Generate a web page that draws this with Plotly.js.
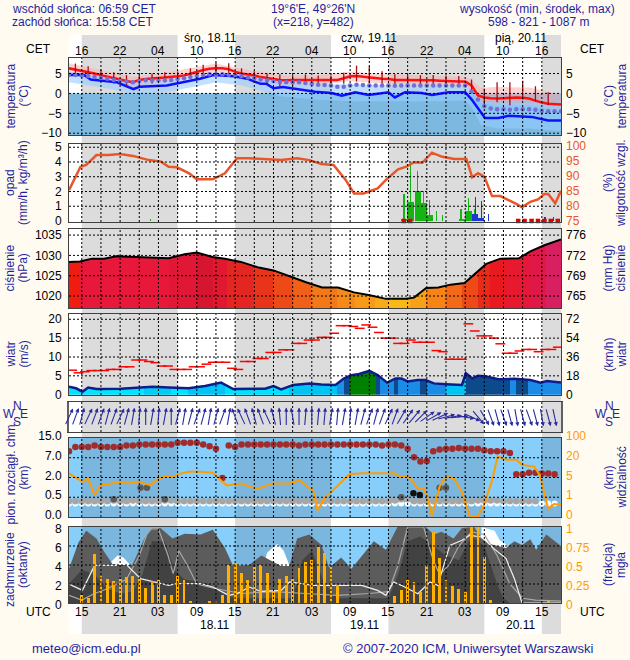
<!DOCTYPE html>
<html>
<head>
<meta charset="utf-8">
<script src="https://cdn.plot.ly/plotly-3.0.1.min.js"></script>
<style>
html,body{margin:0;padding:0;background:#fffbf0;}
#chart{width:630px;height:660px;}
</style>
</head>
<body>
<div id="chart"></div>
<script>
// ===== time axis: hours since 17.11 00 UTC =====
const hours = [13,14,15,16,17,18,19,20,21,22,23,24,25,26,27,28,29,30,31,32,33,34,35,36,37,38,39,40,41,42,43,44,45,46,47,48,49,50,51,52,53,54,55,56,57,58,59,60,61,62,63,64,65,66,67,68,69,70,71,72,73,74,75,76,77,78,79,80,81,82,83,84,85,86,87,88,89,90];
const nightStart = [15,39,63,87];
const nightEnd   = [30,54,78,90];
const gridHours = [15,18,21,24,27,30,33,36,39,42,45,48,51,54,57,60,63,66,69,72,75,78,81,84,87];
const labelHours = [15,21,27,33,39,45,51,57,63,69,75,81,87];
const cetLabels = ['16','22','04','10','16','22','04','10','16','22','04','10','16'];
const utcLabels = ['15','21','03','09','15','21','03','09','15','21','03','09','15'];
const dayLabels = ['śro, 18.11','czw, 19.11','pią, 20.11'];
const dayLabelX = [35.2,60.0,83.7];
const dateLabels = ['18.11','19.11','20.11'];
const dateLabelX = [35.8,59.3,83.7];

// ===== temperature =====
const tempAir = [6.3,6.0,5.7,5.3,5.0,4.6,4.2,3.9,3.5,3.1, 2.8,3.4,3.6,3.8,3.9,4.0,4.1,4.3,4.5,4.9, 5.4,5.9,6.2,6.3,6.3,6.1,5.4,5.0,4.8,4.5, 4.1,3.8,3.6,3.4,3.3,3.4,3.4,3.4,3.3,3.3, 3.3,3.3,3.4,3.8,4.3,4.4,4.2,4.0,3.8,3.7, 3.6,3.4,3.4,3.4,3.4,3.4,3.3,3.3,3.2,3.1, 3.0,3.0,3.0,2.0,-0.5,-1.0,-1.2,-1.3,-1.2,-1.1, -1.0,-1.1,-1.3,-1.8,-2.3,-2.6,-2.7,-2.8];
const tempWet = [4.7,4.6,4.5,4.4,4.1,3.9,3.7,3.4,3.2,3.0, 2.8,3.1,3.3,3.3,3.3,3.3,3.4,3.6,3.8,4.1, 4.4,4.6,4.8,4.8,4.8,4.7,4.6,4.3,4.0,3.8, 3.5,3.3,3.1,2.9,2.8,2.8,2.8,2.6,2.4,2.2, 2.1,2.0,1.7,1.7,2.0,2.2,2.1,2.0,2.0,2.0, 2.0,1.9,2.0,2.0,2.0,2.0,2.0,2.0,2.0,2.0, 2.0,2.0,2.0,0.5,-1.5,-3.2,-3.8,-4.0,-4.0,-4.1, -4.0,-4.0,-4.0,-4.1,-4.4,-4.5,-4.5,-4.5];
const dewX = [13,15.3,16.4,20.5,23.1,24.1,28.3,30.9,33.5,35.6,38.8,40.9,43,43.9,45,46.5,49.2,51.5,54.1,55.7,57.8,59.9,63,64,65.6,68.2,69.8,72.4,75,76,78.1,80.2,81.8,85.4,88,90];
const dewY = [4.6,4.7,3.5,2.8,1.1,1.7,2.0,2.8,3.7,4.6,4.3,3.7,2.4,2.4,1.3,1.6,0.9,0.4,0.1,-0.6,0.3,-0.4,0.3,-1.0,0.3,0.1,-0.4,0.3,0.3,-1.5,-6.2,-6.2,-5.6,-5.9,-6.8,-6.8];
const bandX  = [13,20,23,28,33,36,40,46,52,57,62,70,75,76,77.5,80,85,90];
const pinkHi = [7.6,5.2,4.1,5.2,6.6,7.5,6.2,4.6,4.5,5.5,4.9,4.5,4.2,3.4,1.4,1.6,1.5,-0.3];
const pinkLo = [5.0,2.6,1.5,2.8,4.2,5.1,3.8,2.2,2.1,3.1,2.5,2.1,1.8,0.6,-2.4,-3.0,-3.0,-4.2];
const blueHi = [5.5,3.8,2.6,3.2,4.5,5.0,4.8,3.0,2.2,2.3,2.1,2.0,2.0,0.6,-2.0,-2.3,-2.2,-2.6];
const blueLo = [2.8,1.0,-0.3,0.3,1.8,2.8,2.0,-0.7,-1.6,-2.0,-2.0,-2.0,-1.8,-3.5,-8.0,-8.8,-8.8,-9.5];
const whiskX  = [14,16,18,20,22,24,26,28,30,32,34,36,38,40,42,44,46,48,50,52,54,56,58,60,62,64,66,68,70,72,74,76,78,80,82,84,86,88];
const whiskHi = [7.5,6.8,6.0,5.3,4.6,4.8,5.0,5.3,5.5,6.3,7.2,7.8,7.6,6.3,5.6,5.0,4.8,4.6,4.8,4.5,4.5,5.2,7.0,6.8,5.6,4.8,4.6,4.6,4.6,4.5,4.4,3.5,1.2,2.8,2.8,3.2,1.8,0.3];
const whiskLo = [4.5,3.8,3.3,2.5,1.6,1.8,2.5,2.8,3.0,3.6,4.6,5.0,4.8,3.8,3.3,2.5,1.8,2.0,2.2,2.0,2.2,2.4,3.0,2.6,2.4,2.2,2.2,2.2,2.0,1.9,1.8,0.5,-3.0,-2.2,-3.0,-1.5,-2.0,-3.0];
const tempTicks = [5,0,-5,-10];

// ===== precipitation / humidity =====
const rainX = [65.45,66.45,67.6,68.55,69.5,74.5,75.5];
const rainV = [0.15,1.27,2.0,1.2,0.38,0.1,0.65];
const rainPeakX = [25.7,65.43,66.47,67.5,68.45,69.4,70.5,71.4,74.35,75.5,76.4];
const rainPeakV = [0.12,1.85,3.8,3.4,2.0,1.45,0.65,0.4,0.8,1.55,0.8];
const snowX = [76.5,77.5];
const snowV = [0.45,0.2];
const snowPeakX = [76.6,77.6,78.6,86.3,87.5,88.8];
const snowPeakV = [1.65,1.33,0.45,0.15,0.25,0.3];
const freezeX = [65.4,66.4,83.3,84.3,85.4,86.4,87.4,88.4,89.5];
const humX = [13,14.8,15.7,17.3,19.2,21,23,25.5,27.4,28.6,29.9,31.8,33,35.5,37.4,39.3,41.2,43.7,46.2,48.7,50.6,52.5,54.4,56.3,57.6,59.1,61.3,62.6,64.5,65.8,67,68.3,69.8,71.4,73.3,75.2,76.1,77,78,79.2,80.5,83,83.9,85.2,86.4,87.4,88,89.1,90];
const humV = [85.3,93.1,93.7,97,97,97.3,96.7,95.3,94.8,93.1,92.9,90.9,88.9,88.9,90.9,95.9,95.9,95.7,95.3,95.9,95.3,94,93.7,88.7,84.2,84.2,85.9,88.7,92.2,93.1,94.6,94.4,97.8,96.4,95.7,95.7,89.6,90.9,89.8,83.3,83.3,80.7,79.6,81.4,82.2,84,84,80.9,85.1];
const precipTicks = [0,1,2,3,4,5];
const humTicks = [75,80,85,90,95,100];

// ===== pressure =====
const presX = [13,14.7,16.6,18.5,20.4,22.9,25.4,28.6,31.1,33,35.5,37.4,39.9,42.5,45,47.5,50.1,52.6,55.1,57.6,60.1,62.6,65.8,67,68.9,70.8,72.7,74.9,76.5,78.3,80.5,83.4,85.2,87.4,90];
const presV = [1028.4,1028.5,1029.2,1029.2,1029.8,1029.6,1029.5,1029.3,1030.3,1030.7,1029.6,1029.2,1028.4,1027.1,1026.3,1024.8,1023.4,1022.1,1022.1,1020.9,1020.2,1019.3,1019.3,1019.6,1022,1022.1,1022.8,1023.2,1025.4,1027.9,1029.2,1029.3,1031,1032.5,1033.9];
const presColEdges = [13,14.7,28.6,33,35.5,37.7,41.8,45,48,50.8,55,57.8,60.9,63,66.3,68.8,72,74.5,77,78.9,81.4,84,85.2,87.7,90];
const presColors = ['#f01c10','#e8183a','#e01836','#d61630','#e01830','#e42622','#e8341a','#ee4a18','#f06018','#f27818','#f68a18','#f89a18','#f8aa18','#f8b818','#f8a018','#f88418','#f26a18','#ee4a18','#e82a18','#e81a20','#e8182e','#e6183a','#e01848','#d82060'];
const presTicks = [1020,1025,1030,1035];
const mmHgLabels = ['765','769','772','776'];

// ===== wind =====
const windX = [13,14.1,15.1,16,17.3,21.1,24.2,26.1,28.6,31.7,34.3,36.8,38.7,41.2,43.7,45,46.2,48.1,50.6,52.5,54.7,56,57.2,58.4,60,61.3,62.8,64.1,65,66,67.6,68.8,70.1,72,74.5,75.1,76.1,77,78.3,80.2,82.7,85.2,86.8,87.8,90];
const windV = [2.1,1.7,0.8,1.9,1.5,1.6,1.9,2.1,1.9,1.7,2.3,3.2,1.5,1.6,1.6,2.3,1.4,2.6,3.0,2.7,2.6,4.3,5.2,5.5,6.3,5.2,3.2,4.3,4.3,3.5,3.9,3.9,3.0,2.8,2.6,5.7,4.3,5.0,4.8,4.1,4.2,3.9,3.2,3.6,3.2];
const gust = [6.5,5.8,6.1,6.4,6.4,6.4,6.7,6.7,7.4,7.4, 9.2,9.2,8.8,8.5,7.6,7.6,6.7,6.7,6.7,7.4, 7.4,8.1,8.6,8.6,8.6,7.0,6.7,8.8,8.8,9.6, 9.6,11.2,11.2,11.9,11.9,13.6,13.6,14.5,14.5,15.2, 15.2,16.3,18.3,18.3,18.1,17.6,18.5,17.9,16.5,15.0, 15.0,13.6,13.6,14.5,13.9,13.9,13.9,11.7,11.4,9.4, 9.4,9.4,18.8,16.9,15.6,15.6,15.0,13.5,11.0,11.0, 11.6,12.0,12.0,11.4,12.0,12.0,12.6];
const windColEdges = [13,24.8,28.9,31.7,37.4,47.5,55,56,57,61,61.6,63.8,64.5,67.9,69,72,75.1,82,83,84.9,90];
const windColors = ['#00e4ff','#00ccf4','#00e4ff','#00c4f8','#00e0ff','#00c4f4','#1a90e8','#0c4a8c','#008000','#0c4a8c','#1a8ce8','#0c4a8c','#1a8ce8','#0c4a8c','#1a8ce8','#00c4f4','#0c4a8c','#1a8ce8','#0c4a8c','#1a8ce8'];
const windTicks = [0,5,10,15,20];
const kmhTicks = [0,18,36,54,72];

// ===== wind direction (direction the arrow points, deg clockwise from N) =====
const dirDeg = [25,20,15,25,20,20,15,20,25,15, 10,5,0,10,5,10,0, 15,10,15,20,15,10,15,20,10, -20,-25,-20,-15,-20,-25,-15, -5,0,-10,0,5,0,5, 5,10,5,10,5,10, 15,20,15,20,25,20, 30,35,40,45, 55,60,65, 75,80,85, 100,115, 140,150, 160,165,160,165,170,165,160,165,170,165,168];

// ===== cloud base (km) & visibility (km) =====
const cbBounds = [0,0.5,2,7,15];
const cbLabels = ['0.0','0.5','2.0','7.0','15.0'];
const visBounds = [0,1,5,20,100];
const visLabels = ['0','1','5','20','100'];
const highBase = [9.6,11.4,11.4,11.4,12.0,11.4,11.4,11.4,11.4,12.0, 12.0,12.4,12.4,12.4,12.4,12.4,12.4,13.1,13.1,13.1, 13.1,12.4,11.7,10.6,1.97,12.0,11.4,12.4,12.4,12.4, 12.4,12.4,12.4,12.4,12.4,12.4,12.0,12.4,12.4,12.4, 12.4,12.4,12.4,12.4,12.4,12.4,12.4,12.4,12.4,12.0, 12.4,12.4,12.0,10.6,7.2,6.05,6.2,9.6,10.3,10.6, 10.6,11.0,10.6,10.6,10.6,10.0,9.6,9.6,9.6,8.9, 2.8,2.8,3.2,3.2,3.0,3.0,2.85];
const lowBase = [0.40,0.40,0.40,0.40,0.40,0.40,0.40,0.42,0.40,0.40, 0.42,0.40,0.40,0.40,0.40,0.42,0.42,0.40,0.40,0.40, 0.40,0.40,0.40,0.40,0.40,0.40,0.40,0.40,0.40,0.40, 0.40,0.40,0.40,0.40,0.40,0.40,0.40,0.40,0.40,0.40, 0.40,0.40,0.40,0.40,0.40,0.40,0.40,0.40,0.40,0.40, 0.40,0.42,0.45,0.45,0.40,0.40,0.40,0.40,0.40,0.40, 0.40,0.40,0.40,0.40,0.42,0.42,0.42,0.42,0.40,0.40, 0.40,0.40,0.40,0.40];
const fogLevel = [0.34,0.34,0.34,0.34,0.34,0.34,0.34,0.34,0.34,0.34, 0.34,0.34,0.34,0.34,0.34,0.34,0.34,0.34,0.34,0.34, 0.34,0.34,0.34,0.34,0.34,0.34,0.34,0.34,0.34,0.34, 0.34,0.34,0.34,0.34,0.34,0.34,0.34,0.34,0.34,0.34, 0.34,0.34,0.34,0.34,0.34,0.34,0.34,0.34,0.34,0.34, 0.34,0.34,0.34,0.34,0.34,0.34,0.34,0.34,0.34,0.34, 0.34,0.34,0.34,0.34,0.34,0.34,0.34,0.34,0.34,0.34, 0.34,0.34,0.34,0.34,0.34,0.34,0.34];
const darkBaseX = [20,24.2,25.2,28,65,71,72];
const darkBase  = [0.45,1.22,1.22,0.45,0.5,1.22,1.22];
const blackBaseX = [66.9,67.9];
const blackBase  = [0.8,0.68];
const visX = [13,15.1,16,17,17.9,21.1,22.3,23.9,25.8,26.4,28,29.2,30.2,31.7,33.6,35.5,36.8,37.7,39.9,42.4,44.9,47.5,49.1,50.3,51.2,51.9,53.1,54.4,56.9,58.8,63.8,65,66.3,67.6,68.5,69.1,69.8,71,72,73.2,74.5,75.7,77,77.9,79.2,80.1,81.4,83,83.9,85.8,86.7,88,88.9,90];
const visV = [8.2,4.1,4.8,1.4,3.4,4.1,3.8,4.2,3.4,4.2,6.1,5.5,7.6,9.4,9.4,8.6,4.4,3.4,3.8,2.7,3.8,3.8,4.4,3.1,2.5,0.34,1.0,2.5,7.4,8.2,8.2,5.5,5.0,2.7,2.7,1.0,0.05,3.2,5.5,4.9,2.0,0.05,0.05,0.57,4.4,25.6,18.5,18.5,14.6,13.3,6.8,0.4,0.66,0.62];

// ===== cloud cover (oktas) & fog (fraction) =====
const ccX = [13,14.5,15.7,17.3,18.5,19.8,21.1,22.9,24.8,26.1,27.3,29.2,31.1,33.6,35.5,37.4,38.7,41.2,43.1,46.2,47.5,48.7,50.6,52.5,53.7,55.6,57.2,58.8,60.7,62.6,64.4,68.8,70.1,71.3,73.2,74.5,76.4,77.6,78.9,80.1,81.4,82.7,83.9,85.2,86.1,87.7,89,90];
const ccTotal = [3.6,6.4,7.6,6.8,5.4,4.1,4.0,4.0,6.8,7.9,7.9,6.8,7.3,7.2,7.7,5.8,3.9,4.0,5.0,3.9,3.9,6.8,7.2,6.1,3.7,4.8,3.6,4.9,6.5,5.6,8.0,8.0,7.2,7.5,6.8,7.9,8.0,6.8,6.2,6.0,5.8,6.5,6.1,6.7,5.6,7.2,6.5,6.0];
const ccWhiteX = [13,19.0,20.6,21.5,22.6,23.3,42.0,44.0,45.6,46.6,47.6,76.6,77.6,78.6,79.6,80.4,81.2,82.0,90];
const ccWhite  = [0,4.0,5.0,4.8,4.0,0,0,5.3,6.2,5.5,3.8,0,8.0,7.8,7.6,6.6,6.3,5.6,0];
const ccLowX = [13,15,17,19,21,23,24.5,26,28,29.5,31,35,37,39,48,49.5,51,53,55,63,64.5,66,68,70,72,74,76,78,80,81,82,90];
const ccLow  = [2.0,3.5,3.0,1.5,1.0,1.2,3.0,6.5,6.5,3.5,2.5,2.0,1.0,0.5,0.5,4.5,5.5,2.0,0.5,0.5,3.0,6.5,7.0,6.0,5.0,4.5,7.0,6.0,2.0,0.5,0,0];
const lineWX = [13,15.1,17,20.4,20.8,22.9,24.2,28.6,29.8,33.6,35.5,38,39.3,41.2,43,46.2,47.5,51.2,58.8,61.3,62.6,63.8,65,67.6,69.5,70.7,72.6,74.5,75.7,77.6,79.5,81.4,82.7,83.9,90];
const lineW  = [2.0,1.33,3.96,3.96,4.84,3.44,2.56,1.86,2.04,2.04,1.68,0.81,0.98,1.68,1.23,1.33,2.21,1.86,1.86,1.33,0.81,2.21,1.86,0.98,2.21,1.86,6.07,6.6,7.12,6.95,5.72,4.67,2.56,0,0];
const lineGX = [13,15,17,19,22,24,25.5,27,28.5,29.3,30.2,31.5,33,36,40,45,50,55,60,63,64.5,66,68.5,70,71,72.5,74,76,78,80,82,84,86,90];
const lineG  = [0.8,0.3,1.0,1.5,2.5,5.0,7.8,7.8,5.0,3.1,5.5,4.0,2.0,1.5,1.0,1.2,1.0,0.8,1.0,1.2,4.0,8.0,8.0,4.5,3.0,4.0,6.0,7.5,7.2,5.0,2.0,0.5,0.3,0.2];
const fog = [0,0,0.1,0.06,0.64,0.36,0.31,0.29,0.31,0.34, 0.36,0.32,0.2,0.29,0.3,0.11,0.11,0.36,0.3,0.03, 0,0,0.02,0.02,0.1,0.5,0.53,0.39,0.3,0.47, 0.5,0.4,0.15,0.32,0.36,0.32,0.46,0.54,0.57,0.74, 0.66,0.48,0.24,0,0,0,0,0,0,0, 0,0.09,0.17,0.3,0.28,0.15,0.5,0.94,0.59,0.3, 0.22,0.18,0.14,1.0,1.0,0.6,0.04,0,0,0, 0,0,0,0,0,0.02,0];
const cloudTicks = [0,2,4,6,8];
const fogTicks = [0,0.25,0.5,0.75,1];
const fogLabels = ['0','0.25','0.5','0.75','1'];

// ================= drawing =================
const W = 630, H = 660;
const fam = 'Liberation Sans, Arial, Helvetica, sans-serif';
const NAVY = '#1f1f9f';
const FRAME = '#404040';
const py = p => 1 - p / H;
const P = {temp:[58,135], precip:[144,222], pres:[229,308], wind:[314,395], wdir:[402,432], cbase:[438,517], cloud:[527,603]};
const dom = k => [py(P[k][1]), py(P[k][0])];
const h77 = hours.slice(0, 77);

function pw(b, v) { // piecewise position on a banded axis
  for (let i = 0; i < b.length - 1; i++) if (v <= b[i+1]) return i + (v - b[i]) / (b[i+1] - b[i]);
  return b.length - 1;
}
function scaleFrom(edges, cols) {
  const s = [], a = edges[0], z = edges[edges.length-1];
  cols.forEach((c, i) => { s.push([(edges[i]-a)/(z-a), c]); s.push([(edges[i+1]-a)/(z-a), c]); });
  s[0][0] = 0; s[s.length-1][0] = 1;
  return s;
}

const tr = [];
const base = {mode:'lines', hoverinfo:'skip', showlegend:false, xaxis:'x'};
function add(o) { tr.push(Object.assign({}, base, o)); }

// temperature
add({x:bandX, y:pinkLo, yaxis:'y', line:{width:0}});
add({x:bandX, y:pinkHi, yaxis:'y', line:{width:0}, fill:'tonexty', fillcolor:'rgba(250,175,175,0.55)'});
add({x:bandX, y:blueLo, yaxis:'y', line:{width:0}});
add({x:bandX, y:blueHi, yaxis:'y', line:{width:0}, fill:'tonexty', fillcolor:'rgba(150,205,255,0.6)'});
add({x:hours, y:tempAir, yaxis:'y', line:{color:'#ff1010', width:2.5}});
const wx = [], wy = [];
whiskX.forEach((h, i) => { wx.push(h, h, null); wy.push(whiskLo[i], whiskHi[i], null); });
add({x:wx, y:wy, yaxis:'y', line:{color:'#a81010', width:1.3}});
add({x:dewX, y:dewY, yaxis:'y', line:{color:'#1010ff', width:2.5}});
add({x:hours, y:tempWet, yaxis:'y', mode:'markers', marker:{size:4.5, color:'#7070d8'}});
add({x:[13], y:[0], yaxis:'y2', mode:'markers', marker:{opacity:0}});

// precipitation
add({type:'bar', x:rainX, y:rainV, yaxis:'y3', width:1, marker:{color:'#14b414', line:{width:0}}});
add({type:'bar', x:rainPeakX, y:rainPeakV, yaxis:'y3', width:0.17, marker:{color:'#14b414', line:{width:0}}});
add({type:'bar', x:snowX, y:snowV, yaxis:'y3', width:1, marker:{color:'#1838d0', line:{width:0}}});
add({type:'bar', x:snowPeakX, y:snowPeakV, yaxis:'y3', width:0.17, marker:{color:'#1838d0', line:{width:0}}});
add({x:freezeX, y:freezeX.map(() => 0), yaxis:'y3', mode:'markers', marker:{symbol:'square', size:4.5, color:'#e00000'}, cliponaxis:false});
add({x:humX, y:humV, yaxis:'y4', line:{color:'#e8562a', width:2.5}});

// pressure
add({x:presX, y:presV, yaxis:'y5', line:{color:'#000', width:2}, fill:'tozeroy',
     fillgradient:{type:'horizontal', colorscale:scaleFrom(presColEdges, presColors), start:13, stop:90}});
add({x:[13], y:[1030], yaxis:'y6', mode:'markers', marker:{opacity:0}});

// wind
add({x:windX, y:windV, yaxis:'y7', line:{color:'#101c8c', width:2.5}, fill:'tozeroy',
     fillgradient:{type:'horizontal', colorscale:scaleFrom(windColEdges, windColors), start:13, stop:90}});
add({x:h77.map(h => h + 0.5), y:gust, yaxis:'y7', mode:'markers', marker:{symbol:'line-ew', size:7, line:{color:'#ff0000', width:1.5}}});
add({x:[13], y:[0], yaxis:'y8', mode:'markers', marker:{opacity:0}});
add({x:[13], y:[0.5], yaxis:'y9', mode:'markers', marker:{opacity:0}});

// cloud base / visibility
add({x:visX, y:visV.map(v => pw(visBounds, v)), yaxis:'y11', line:{color:'#ff9c00', width:2}});
add({x:h77, y:fogLevel.map(v => pw(cbBounds, v)), yaxis:'y10', mode:'markers', marker:{size:6, color:'#ffffff'}});
add({x:hours.slice(0, 74), y:lowBase.map(v => pw(cbBounds, v)), yaxis:'y10', mode:'markers', marker:{size:6.5, color:'#a6a6a6'}});
add({x:darkBaseX, y:darkBase.map(v => pw(cbBounds, v)), yaxis:'y10', mode:'markers', marker:{size:6.5, color:'#5a5a5a'}});
add({x:blackBaseX, y:blackBase.map(v => pw(cbBounds, v)), yaxis:'y10', mode:'markers', marker:{size:6.5, color:'#101010'}});
add({x:h77, y:highBase.map(v => pw(cbBounds, v)), yaxis:'y10', mode:'markers', marker:{size:6.5, color:'#a02c2c'}});

// cloud cover / fog
add({x:ccWhiteX, y:ccWhite, yaxis:'y12', line:{width:0}, fill:'tozeroy', fillcolor:'#ffffff'});
add({x:ccX, y:ccTotal, yaxis:'y12', line:{width:0}, fill:'tozeroy', fillcolor:'#5c5c5c'});
add({x:ccLowX, y:ccLow, yaxis:'y12', line:{width:0}, fill:'tozeroy', fillcolor:'#424242'});
add({type:'bar', x:h77, y:fog, yaxis:'y13', width:0.45, marker:{color:'#ffb000', line:{width:0}}});
add({x:lineGX, y:lineG, yaxis:'y12', line:{color:'#a8a8a8', width:1.2}});
add({x:lineWX, y:lineW, yaxis:'y12', line:{color:'#f0f0f0', width:1.2}});

// ---- axes ----
function yL(k, o) {
  return Object.assign({domain:dom(k), anchor:'x', showgrid:false, zeroline:false, showline:true, mirror:true,
    linecolor:FRAME, linewidth:1, ticks:'', ticklabelstandoff:4, fixedrange:true,
    tickfont:{family:fam, size:12, color:'#000'}}, o);
}
function yR(over, k, o) {
  return Object.assign({domain:dom(k), anchor:'x', overlaying:over, side:'right', showgrid:false, zeroline:false,
    showline:false, ticks:'', ticklabelstandoff:4, fixedrange:true,
    tickfont:{family:fam, size:12, color:'#000'}}, o);
}
const tR = [-10.45, 8.9], pR = [-0.07, 5.22], hR = [74.67, 100.67], prR = [1017.05, 1036.5], wR = [-0.08, 21.4];

// ---- shapes ----
const shapes = [];
shapes.push({type:'rect', xref:'x', yref:'paper', x0:13, x1:90, y0:py(634), y1:py(35), fillcolor:'#ffffff', line:{width:0}, layer:'below'});
nightStart.forEach((a, i) => shapes.push({type:'rect', xref:'x', yref:'paper', x0:a, x1:nightEnd[i], y0:py(634), y1:py(35), fillcolor:'#dcdcdc', line:{width:0}, layer:'below'}));
['cbase', 'cloud'].forEach(k => {
  shapes.push({type:'rect', xref:'x', yref:'paper', x0:13, x1:90, y0:py(P[k][1]), y1:py(P[k][0]), fillcolor:'#87cefa', line:{width:0}, layer:'below'});
  nightStart.forEach((a, i) => shapes.push({type:'rect', xref:'x', yref:'paper', x0:a, x1:nightEnd[i], y0:py(P[k][1]), y1:py(P[k][0]), fillcolor:'#7ab6de', line:{width:0}, layer:'below'}));
});
shapes.push({type:'rect', xref:'x', yref:'y', x0:13, x1:90, y0:tR[0], y1:0, fillcolor:'#7cb8e0', line:{width:0}, layer:'below'});
const gridLine = {color:'#000', width:1, dash:'2px,2px'};
Object.keys(P).forEach(k => gridHours.forEach(h => shapes.push({type:'line', xref:'x', yref:'paper', x0:h, x1:h, y0:py(P[k][1]), y1:py(P[k][0]), line:gridLine, layer:'above'})));
const hGrid = [['y',[5,0,-5,-10]],['y3',[1,2,3,4,5]],['y5',[1020,1025,1030,1035]],['y7',[5,10,15,20]],['y10',[1,2,3]],['y12',[2,4,6]]];
hGrid.forEach(([ax, vals]) => vals.forEach(v => shapes.push({type:'line', xref:'x', yref:ax, x0:13, x1:90, y0:v, y1:v, line:gridLine, layer:'above'})));

// ---- annotations ----
const ann = [];
function txt(x, y, text, o) {
  ann.push(Object.assign({xref:'paper', yref:'paper', x:x/W, y:py(y), text:text, showarrow:false,
    xanchor:'center', yanchor:'middle', font:{family:fam, size:12, color:NAVY}}, o || {}));
}
// header
txt(10, 9, 'wschód słońca: 06:59 CET', {xanchor:'left'});
txt(10, 22, 'zachód słońca: 15:58 CET', {xanchor:'left'});
txt(313, 9, "19°6'E, 49°26'N");
txt(313, 22, '(x=218, y=482)');
txt(617, 9, 'wysokość (min, środek, max)', {xanchor:'right'});
txt(538, 22, '598 - 821 - 1087 m');
// footer
txt(30, 648, 'meteo@icm.edu.pl', {xanchor:'left', font:{family:fam, size:13, color:NAVY}});
txt(596, 648, '© 2007-2020 ICM, Uniwersytet Warszawski', {xanchor:'right', font:{family:fam, size:13, color:NAVY}});
// time labels
const blk = {family:fam, size:12, color:'#000'};
labelHours.forEach((h, i) => {
  ann.push({xref:'x', yref:'paper', x:h, y:py(51), text:cetLabels[i], showarrow:false, font:blk, xanchor:'center', yanchor:'middle'});
  ann.push({xref:'x', yref:'paper', x:h, y:py(612), text:utcLabels[i], showarrow:false, font:blk, xanchor:'center', yanchor:'middle'});
});
dayLabels.forEach((t, i) => ann.push({xref:'x', yref:'paper', x:dayLabelX[i], y:py(38), text:t, showarrow:false, font:blk, xanchor:'center', yanchor:'middle'}));
dateLabels.forEach((t, i) => ann.push({xref:'x', yref:'paper', x:dateLabelX[i], y:py(625), text:t, showarrow:false, font:blk, xanchor:'center', yanchor:'middle'}));
txt(38, 49, 'CET', {font:blk}); txt(592, 49, 'CET', {font:blk});
txt(38, 612, 'UTC', {font:blk}); txt(592, 612, 'UTC', {font:blk});
// axis titles [panel, left outer, left inner, right inner, right outer, left outer shift, right outer shift]
const rot = {textangle:-90};
const titles = [
  ['temp', 'temperatura', '(°C)', '(°C)', 'temperatura', 0, 0],
  ['precip', 'opad', '(mm/h, kg/m³/h)', '(%)', 'wilgotność wzgl.', 0, 0],
  ['pres', 'ciśnienie', '(hPa)', '(mm Hg)', 'ciśnienie', 0, 0],
  ['wind', 'wiatr', '(m/s)', '(km/h)', 'wiatr', 0, 0],
  ['cbase', 'pion. rozciągł. chm.', '(km)', '(km)', 'widzialność', -4, 0],
  ['cloud', 'zachmurzenie', '(oktanty)', '(frakcja)', 'mgła', 5, 0]
];
titles.forEach(([k, a, b, c, d, dl, dr]) => {
  const yc = (P[k][0] + P[k][1]) / 2;
  txt(10, yc + dl, a, rot); txt(23, yc, b, rot); txt(608, yc, c, rot); txt(621, yc + dr, d, rot);
});
// compass
[17, 609].forEach(cx => {
  txt(cx, 406, 'N'); txt(cx - 8, 414, 'W'); txt(cx + 7, 414, 'E'); txt(cx, 422, 'S');
});
// wind arrows
const L = 19;
h77.forEach((h, i) => {
  const t = dirDeg[i] * Math.PI / 180, sx = Math.sin(t), cy = Math.cos(t);
  ann.push({xref:'x', yref:'y9', x:h, y:0.5, text:'', showarrow:true, axref:'pixel', ayref:'pixel',
    ax:-sx * L, ay:cy * L, xshift:sx * L / 2, yshift:cy * L / 2,
    arrowhead:2, arrowsize:0.75, arrowwidth:1.1, arrowcolor:'#2a2aa0', standoff:0, startstandoff:0});
});

const layout = {
  width:W, height:H, margin:{l:0, r:0, t:0, b:0},
  paper_bgcolor:'#fffbf0', plot_bgcolor:'rgba(0,0,0,0)',
  showlegend:false, barmode:'overlay', bargap:0,
  font:{family:fam, size:12, color:'#000'},
  xaxis:{domain:[69/W, 561/W], range:[13, 90], anchor:'y12', showgrid:false, zeroline:false, showticklabels:false,
         ticks:'', showline:true, mirror:'all', linecolor:FRAME, linewidth:1, fixedrange:true},
  yaxis:  yL('temp', {range:tR, tickvals:tempTicks}),
  yaxis2: yR('y', 'temp', {range:tR, tickvals:tempTicks}),
  yaxis3: yL('precip', {range:pR, tickvals:precipTicks}),
  yaxis4: yR('y3', 'precip', {range:hR, tickvals:humTicks, tickfont:{family:fam, size:12, color:'#e8562a'}}),
  yaxis5: yL('pres', {range:prR, tickvals:presTicks}),
  yaxis6: yR('y5', 'pres', {range:prR, tickvals:presTicks, ticktext:mmHgLabels}),
  yaxis7: yL('wind', {range:wR, tickvals:windTicks}),
  yaxis8: yR('y7', 'wind', {range:[wR[0]*3.6, wR[1]*3.6], tickvals:kmhTicks}),
  yaxis9: yL('wdir', {range:[0, 1], showticklabels:false, linecolor:'#606060', linewidth:2}),
  yaxis10: yL('cbase', {range:[0, 4], tickvals:[0,1,2,3,4], ticktext:cbLabels, ticklabelshift:-2}),
  yaxis11: yR('y10', 'cbase', {range:[0, 4], tickvals:[0,1,2,3,4], ticktext:visLabels, ticklabelshift:-2, tickfont:{family:fam, size:12, color:'#ff9c00'}}),
  yaxis12: yL('cloud', {range:[0, 8], tickvals:cloudTicks, ticklabelshift:2}),
  yaxis13: yR('y12', 'cloud', {range:[0, 1], tickvals:fogTicks, ticktext:fogLabels, ticklabelshift:2, tickfont:{family:fam, size:12, color:'#ff9c00'}}),
  shapes:shapes, annotations:ann
};

Plotly.newPlot('chart', tr, layout, {staticPlot:true, displayModeBar:false});
</script>
</body>
</html>
